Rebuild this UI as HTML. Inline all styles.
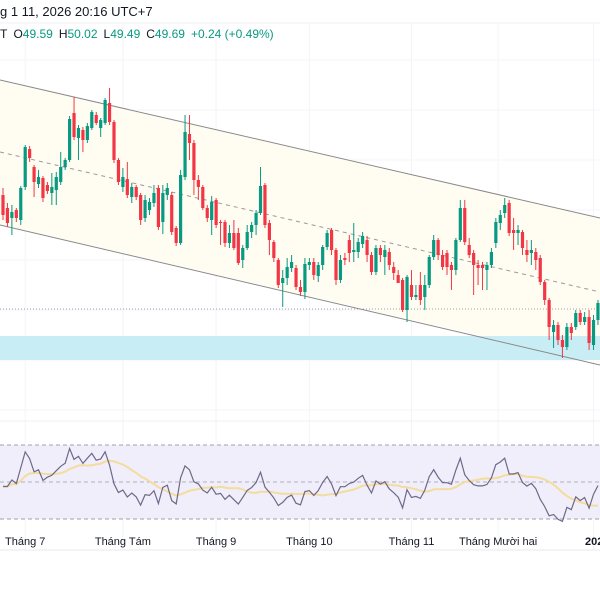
<!DOCTYPE html>
<html><head><meta charset="utf-8">
<style>
html,body{margin:0;padding:0;background:#fff;}
body{width:600px;height:600px;overflow:hidden;font-family:"Liberation Sans","Noto Sans CJK JP",sans-serif;}
svg text{font-family:"Liberation Sans","Noto Sans CJK JP",sans-serif;}
</style></head>
<body>
<svg id="chart" width="600" height="600" viewBox="0 0 600 600" xmlns="http://www.w3.org/2000/svg">
  <rect x="0" y="0" width="600" height="600" fill="#ffffff"/>
  <g id="grid"></g>
  <polygon points="0,80 600,218 600,363 0,225" fill="#fffdf2"/>
  <rect x="0" y="336" width="600" height="24" fill="#c9edf5"/>
  <line x1="0" y1="309" x2="600" y2="309" stroke="#9aa0b0" stroke-width="1" stroke-dasharray="1,2"/>
  <line x1="0" y1="80" x2="600" y2="218" stroke="#8a8a8a" stroke-width="1"/>
  <line x1="0" y1="152" x2="600" y2="292" stroke="#999" stroke-width="1" stroke-dasharray="4,4"/>
  <line x1="0" y1="225" x2="600" y2="365" stroke="#8a8a8a" stroke-width="1"/>
  <g id="candles"></g>
  <line x1="0" y1="421" x2="600" y2="421" stroke="#eef0f4"/>
  <rect x="0" y="445" width="600" height="74" fill="#f1eefb"/>
  <line x1="0" y1="445" x2="600" y2="445" stroke="#a0a0aa" stroke-dasharray="4,3"/>
  <line x1="0" y1="482" x2="600" y2="482" stroke="#b0b0ba" stroke-dasharray="4,3"/>
  <line x1="0" y1="519" x2="600" y2="519" stroke="#a0a0aa" stroke-dasharray="4,3"/>
  <path id="rsima" fill="none" stroke="#f3dc9c" stroke-width="2"/>
  <path id="rsi" fill="none" stroke="#6e6888" stroke-width="1.2"/>
  <line x1="0" y1="550" x2="600" y2="550" stroke="#e8eaee"/>
  <g id="xlabels"></g>
  <text x="0" y="16" font-size="13" fill="#131722">g 1 11, 2026 20:16 UTC+7</text>
  <line x1="0" y1="23" x2="600" y2="23" stroke="#f0f2f5"/>
  <text x="0" y="38" font-size="12" fill="#131722">T <tspan dx="3">O</tspan><tspan fill="#089981">49.59</tspan><tspan dx="6">H</tspan><tspan fill="#089981">50.02</tspan><tspan dx="6">L</tspan><tspan fill="#089981">49.49</tspan><tspan dx="6">C</tspan><tspan fill="#089981">49.69</tspan><tspan dx="6" fill="#089981">+0.24 (+0.49%)</tspan></text>
</svg>
<script>
const opens=[61.1,59.8,58.8,59.6,58.6,61.9,65.7,63.9,62.2,62.8,62.1,61.3,61.6,62.4,63.9,64.6,69.3,66.8,67.6,66.6,67.8,69.1,67.8,68.3,70.3,68.4,64.6,61.9,62.7,60.9,61.9,61.1,58.8,59.6,60.3,61.8,58.4,61.1,61.1,57.8,56.3,62.9,67.2,66.3,62.6,61.9,59.8,58.6,60.6,58.4,58.4,56.3,57.3,57.3,54.6,55.8,57.4,58.1,59.3,62.1,58.3,56.4,54.6,52.3,52.8,53.8,53.8,51.9,51.4,54.1,54.4,53.0,54.1,55.9,57.6,55.6,52.6,54.8,56.6,55.4,55.4,56.2,56.6,55.1,53.4,55.8,54.9,55.4,53.9,53.1,52.6,49.6,52.1,50.9,52.1,50.9,52.1,54.9,56.6,55.1,55.3,54.1,53.6,56.6,59.8,56.1,55.3,54.1,54.1,53.6,54.1,56.3,58.3,59.3,60.3,57.6,57.3,57.4,55.6,55.3,55.4,54.8,52.4,50.6,47.4,48.1,46.6,45.9,47.9,47.9,49.3,48.4,48.9,46.1,48.6];
const highs=[61.8,60.3,60.1,59.8,62.0,66.1,66.0,64.1,63.6,63.0,62.4,63.3,63.4,65.4,64.8,69.0,70.9,68.1,67.9,68.3,69.6,69.4,68.8,70.8,71.8,68.6,64.8,63.8,64.4,62.3,62.1,61.3,61.1,60.8,62.1,62.1,62.1,62.3,61.4,58.0,63.6,69.1,69.1,66.6,63.1,62.1,60.1,61.0,60.8,58.6,58.6,58.1,58.6,57.8,56.1,58.1,58.4,59.6,63.9,62.3,58.6,56.6,54.8,53.6,54.8,55.1,54.1,52.6,54.8,54.8,54.8,54.4,56.1,57.6,57.8,55.8,55.1,55.3,57.1,58.3,56.8,57.4,57.0,55.4,56.1,56.1,56.1,55.8,54.4,53.6,52.8,53.1,53.6,52.1,53.4,53.1,55.1,57.1,56.8,55.6,55.6,54.4,56.8,60.6,60.6,56.8,55.6,54.6,54.4,54.4,55.8,58.8,59.6,60.8,60.6,58.8,58.1,57.6,56.6,56.6,55.8,55.1,52.6,50.8,48.6,48.4,47.1,48.3,48.3,49.6,49.6,49.4,49.6,49.1,50.6];
const lows=[58.6,57.9,57.1,58.4,58.1,61.6,64.4,60.9,61.8,60.4,61.2,60.1,60.1,62.1,63.6,64.4,66.6,64.6,65.4,66.3,67.6,68.1,66.9,68.1,68.1,64.3,62.1,61.4,60.8,60.3,60.6,58.1,58.4,59.1,59.9,57.6,57.2,60.6,57.1,56.0,56.1,62.6,64.6,61.1,60.6,59.6,58.4,57.1,57.8,56.1,55.9,55.8,55.6,54.1,53.8,55.6,56.8,57.1,59.1,57.8,55.1,54.4,51.8,49.9,52.1,53.4,51.6,51.0,50.7,53.6,52.6,52.4,53.6,55.6,55.1,52.1,52.3,54.1,54.4,54.4,54.8,55.8,54.4,53.1,53.1,54.4,53.1,53.6,52.6,52.3,49.4,48.4,50.6,50.6,50.1,49.6,51.8,54.6,54.6,53.6,53.1,51.6,53.1,56.4,56.1,54.8,51.1,52.1,51.6,51.6,53.8,55.8,57.6,58.8,57.0,55.6,56.1,55.1,54.4,54.1,53.6,52.1,50.1,46.6,45.8,46.1,44.8,45.6,46.6,47.6,48.1,48.1,45.6,45.6,48.1];
const closes=[59.1,58.3,59.4,58.8,61.8,65.9,64.8,62.4,62.9,60.8,61.5,61.9,62.9,63.9,64.6,68.7,66.9,67.8,66.6,68.0,69.4,68.3,68.6,70.6,68.4,64.6,62.4,62.9,61.1,61.9,60.9,58.6,60.6,60.4,61.3,57.9,61.3,61.8,57.4,56.3,63.1,67.4,66.3,62.6,61.9,59.8,58.8,60.4,58.1,58.3,56.3,57.3,55.8,54.3,55.8,57.4,58.1,59.3,62.0,58.1,56.6,54.8,52.1,52.8,53.9,54.4,51.9,51.4,54.2,54.4,53.1,54.1,55.9,57.3,55.6,52.6,54.6,54.6,55.3,55.6,56.4,57.0,55.1,53.4,55.8,55.1,55.6,54.1,53.3,52.3,49.6,52.9,50.9,51.1,50.6,52.1,54.9,56.6,55.1,53.9,53.9,53.6,56.6,59.8,56.4,55.1,54.1,53.8,53.8,54.1,55.4,58.4,59.1,60.1,57.3,57.3,57.6,55.8,55.1,55.6,54.6,52.4,50.6,47.9,48.1,46.6,45.9,47.9,47.3,49.3,48.4,48.9,46.3,48.6,50.3];
const monthLabels=["Tháng 7","Tháng Tám","Tháng 9","Tháng 10","Tháng 11","Tháng Mười hai","2026"];
const monthIndex=[5,27,48,69,92,111.5,133];

const NS="http://www.w3.org/2000/svg";
function xScale(i){return 3+i*4.44;}
function yScale(p){return (80.6-p)*10;}
function rsiY(v){return 519-(v-30)*(74/40);}
function mk(tag,attrs,parent){const e=document.createElementNS(NS,tag);for(const k in attrs)e.setAttribute(k,attrs[k]);parent.appendChild(e);return e;}

const grid=document.getElementById('grid');
monthIndex.forEach(function(mi){
  const gl=mk('line',{x1:xScale(mi),x2:xScale(mi),y1:24,y2:550,stroke:'#f3f4f7'},grid);
  
  
});
[60,110,160,210,260,310,360,410].forEach(function(y){
  const gl=mk('line',{x1:0,x2:600,y1:y,y2:y,stroke:'#f5f6f8'},grid);
  
  
});

const cg=document.getElementById('candles');
for(let i=0;i<closes.length;i++){
  const up=closes[i]>=opens[i];
  const col=up?'#089981':'#f23645';
  const x=xScale(i);
  const w=mk('line',{x1:x,x2:x,y1:yScale(highs[i]),y2:yScale(lows[i]),stroke:col,'stroke-width':1},cg);
  
  
  const t=yScale(Math.max(opens[i],closes[i])),b=yScale(Math.min(opens[i],closes[i]));
  const r=mk('rect',{x:x-1.6,y:t,width:3.2,height:Math.max(1,b-t),fill:col},cg);
  
  
}

const N=14;let ag=0,al=0;const rsi=[];
for(let i=1;i<closes.length;i++){
  const d=closes[i]-closes[i-1];const g=Math.max(d,0),l=Math.max(-d,0);
  if(i===1){ag=0.6;al=0.6;}
  ag=(ag*(N-1)+g)/N;al=(al*(N-1)+l)/N;
  rsi[i]=100-100/(1+ag/al);
}
rsi[0]=rsi[1];
let p='';for(let i=0;i<rsi.length;i++){p+=(i?'L':'M')+xScale(i).toFixed(1)+','+rsiY(rsi[i]).toFixed(1);}
document.getElementById('rsi').setAttribute('d',p);
let pm='';for(let i=0;i<rsi.length;i++){let s=0,c=0;for(let j=Math.max(0,i-N+1);j<=i;j++){s+=rsi[j];c++;}pm+=(i?'L':'M')+xScale(i).toFixed(1)+','+rsiY(s/c).toFixed(1);}
document.getElementById('rsima').setAttribute('d',pm);

const xl=document.getElementById('xlabels');
monthLabels.forEach(function(lbl,k){
  const last=k===monthLabels.length-1;
  const t=mk('text',{x:last?585:xScale(monthIndex[k]),y:545,'font-size':11,fill:'#131722','text-anchor':last?'start':'middle','font-weight':last?'bold':'normal'},xl);
  t.textContent=lbl;
  
  
});
</script>
</body></html>
